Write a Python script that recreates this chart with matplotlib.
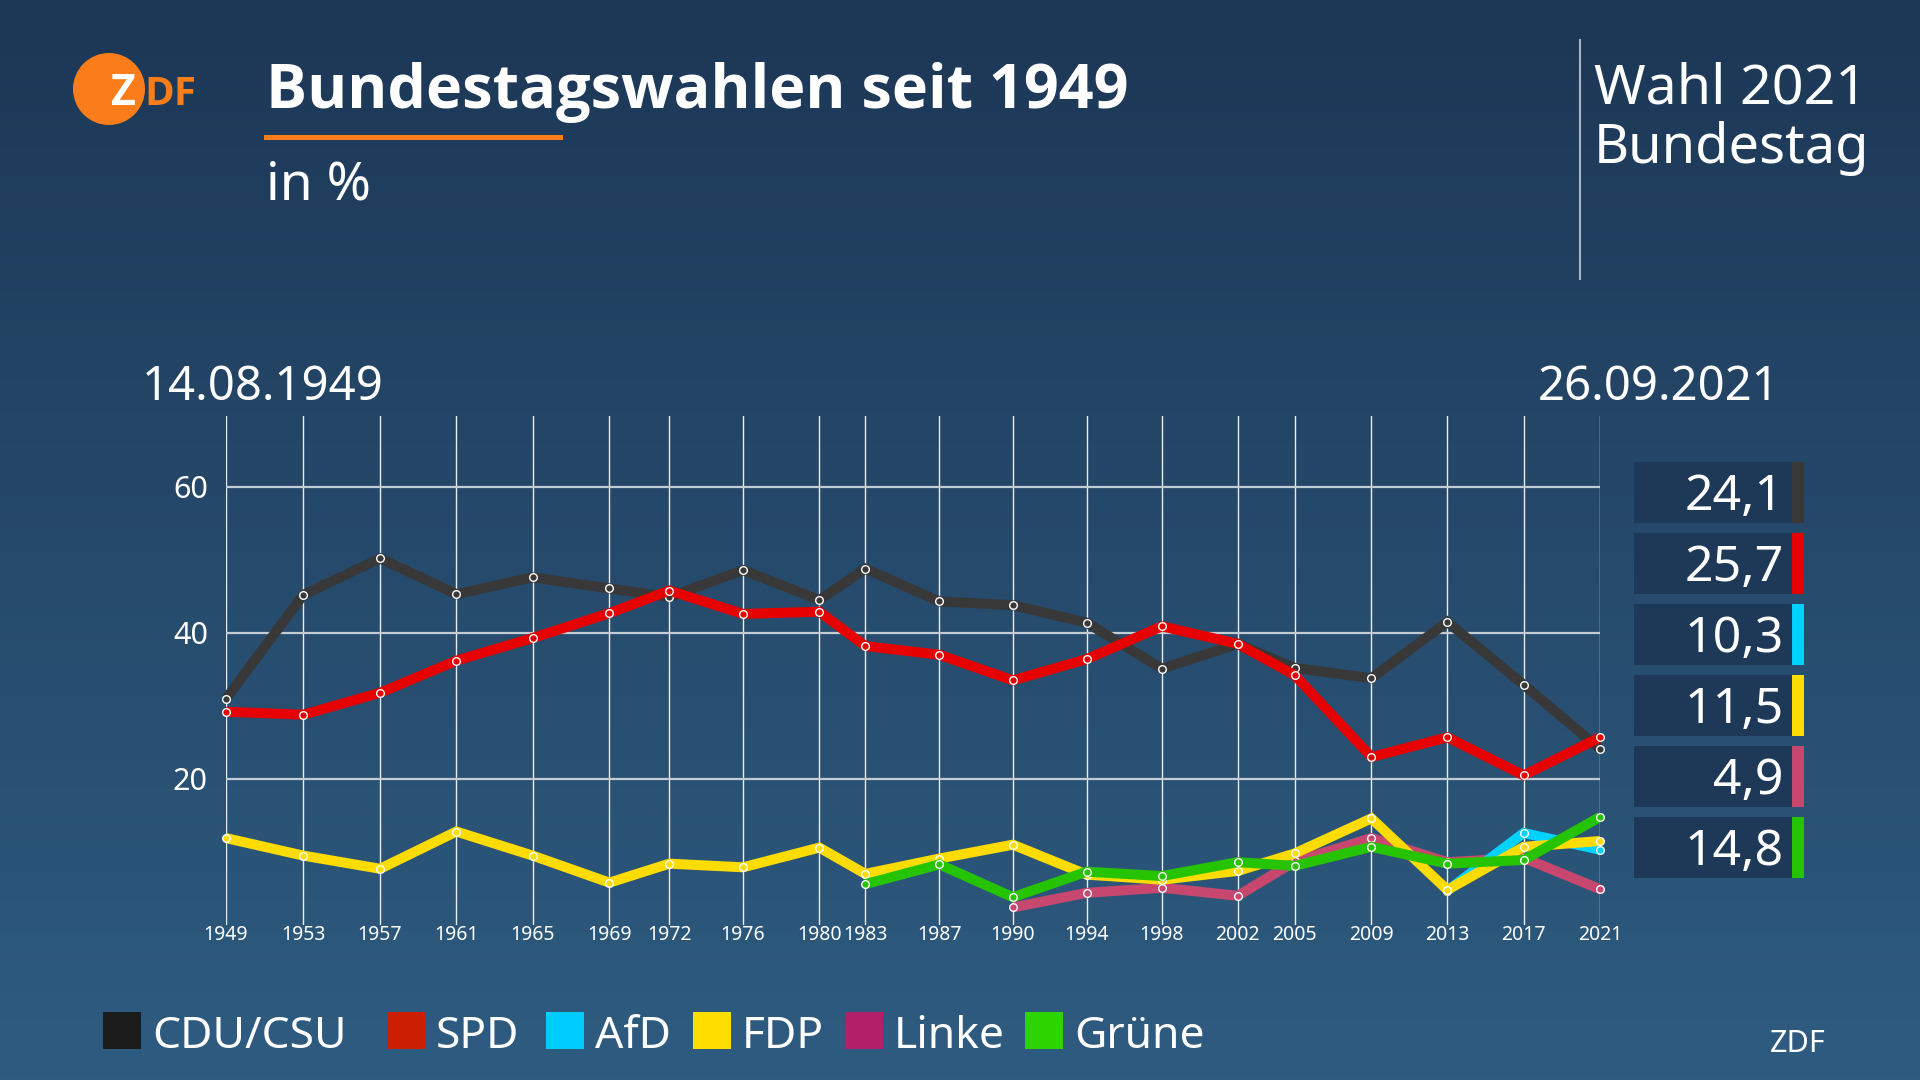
import numpy as np
import matplotlib
matplotlib.use("Agg")
import matplotlib.pyplot as plt
import matplotlib.dates as mdates
from matplotlib.patches import Rectangle, Ellipse
from matplotlib.lines import Line2D
import datetime as dt

plt.rcParams['font.family'] = ['Noto Sans', 'DejaVu Sans']

# ---------------- data ----------------
election_dates = ["1949-08-14", "1953-09-06", "1957-09-15", "1961-09-17", "1965-09-19",
                  "1969-09-28", "1972-11-19", "1976-10-03", "1980-10-05", "1983-03-06",
                  "1987-01-25", "1990-12-02", "1994-10-16", "1998-09-27", "2002-09-22",
                  "2005-09-18", "2009-09-27", "2013-09-22", "2017-09-24", "2021-09-26"]
year_labels = ["1949", "1953", "1957", "1961", "1965", "1969", "1972", "1976", "1980", "1983",
               "1987", "1990", "1994", "1998", "2002", "2005", "2009", "2013", "2017", "2021"]
first_date_label = "14.08.1949"
last_date_label = "26.09.2021"

cdu = [31.0, 45.2, 50.2, 45.3, 47.6, 46.1, 44.9, 48.6, 44.5, 48.8,
       44.3, 43.8, 41.4, 35.1, 38.5, 35.2, 33.8, 41.5, 32.9, 24.1]
spd = [29.2, 28.8, 31.8, 36.2, 39.3, 42.7, 45.8, 42.6, 42.9, 38.2,
       37.0, 33.5, 36.4, 40.9, 38.5, 34.2, 23.0, 25.7, 20.5, 25.7]
afd = [None] * 17 + [4.7, 12.6, 10.3]
fdp = [11.9, 9.5, 7.7, 12.8, 9.5, 5.8, 8.4, 7.9, 10.6, 7.0,
       9.1, 11.0, 6.9, 6.2, 7.4, 9.8, 14.6, 4.8, 10.7, 11.5]
linke = [None] * 11 + [2.4, 4.4, 5.1, 4.0, 8.7, 11.9, 8.6, 9.2, 4.9]
gruene = [None] * 9 + [5.6, 8.3, 3.8, 7.3, 6.7, 8.6, 8.1, 10.7, 8.4, 8.9, 14.8]

parties = ["CDU/CSU", "SPD", "AfD", "FDP", "Linke", "Grüne"]
yticks = [20, 40, 60]

# ---------------- styles ----------------
line_colors = {"CDU/CSU": "#383838", "SPD": "#e60000", "AfD": "#00d2ff",
               "FDP": "#ffdc00", "Linke": "#c8476f", "Grüne": "#26c400"}
legend_colors = {"CDU/CSU": "#1b1b1b", "SPD": "#cc1e00", "AfD": "#00ccff",
                 "FDP": "#ffdf00", "Linke": "#b3206a", "Grüne": "#2dd400"}
series = {"CDU/CSU": cdu, "SPD": spd, "AfD": afd, "FDP": fdp, "Linke": linke, "Grüne": gruene}
draw_order = ["Linke", "AfD", "FDP", "Grüne", "CDU/CSU", "SPD"]
legend_x = [103, 387, 546, 693, 845, 1025]

W, H = 1920, 1080
fig = plt.figure(figsize=(19.2, 10.8), dpi=100)


def fx(x):
    return x / W


def fy(y):
    return 1 - y / H


def rect(x0, y0, x1, y1, color, z=1):
    fig.add_artist(Rectangle((fx(x0), fy(y1)), (x1 - x0) / W, (y1 - y0) / H,
                             transform=fig.transFigure, facecolor=color, lw=0, zorder=z))


# background gradient
bg = fig.add_axes([0, 0, 1, 1], zorder=-10)
top = np.array([29, 55, 86]) / 255
bot = np.array([46, 92, 128]) / 255
t = np.linspace(0, 1, 256)[:, None]
grad = (top[None, :] * (1 - t) + bot[None, :] * t)[:, None, :]
bg.imshow(grad, aspect='auto', extent=[0, 1, 0, 1])
bg.set_axis_off()

# ---------------- main axes ----------------
dates = [mdates.date2num(dt.datetime.strptime(d, "%Y-%m-%d")) for d in election_dates]
ax = fig.add_axes([fx(226), fy(925), (1600 - 226) / W, (925 - 416) / H])
ax.set_facecolor('none')
ax.set_xlim(dates[0], dates[-1])
ax.set_ylim(0, 69.7)
for s in ax.spines.values():
    s.set_visible(False)

for d in dates:
    ax.axvline(d, color='white', lw=1.0, alpha=0.9, zorder=1)
ax.hlines(yticks, dates[0], dates[-1], color='#c3cbd4', lw=1.6, zorder=1)

for i, p in enumerate(draw_order):
    vals = np.array([np.nan if v is None else v for v in series[p]], dtype=float)
    ax.plot(dates, vals, color=line_colors[p], lw=7.2, solid_joinstyle='miter',
            solid_capstyle='butt', zorder=3 + i, clip_on=False,
            marker='o', markersize=5.5, markerfacecolor=line_colors[p],
            markeredgecolor='white', markeredgewidth=1.0)

ax.set_xticks(dates)
ax.set_xticklabels(year_labels)
ax.tick_params(axis='x', length=0, pad=0, labelsize=14, labelcolor='white')
ax.set_yticks(yticks)
ax.set_yticklabels([str(v) for v in yticks])
ax.tick_params(axis='y', length=0, pad=13, labelsize=22, labelcolor='white')

# ---------------- header ----------------
orange = "#fa7d19"
bold_family = ['Open Sans', 'DejaVu Sans']
fig.add_artist(Ellipse((fx(109), fy(89)), 72 / W, 72 / H, transform=fig.transFigure,
                       facecolor=orange, lw=0))
fig.text(fx(111), fy(105), "Z", fontsize=31, fontweight='bold', family=bold_family,
         color='white', va='baseline')
fig.text(fx(144), fy(105), "DF", fontsize=29, fontweight='bold', family=bold_family,
         color=orange, va='baseline')

fig.text(fx(266), fy(108), "Bundestagswahlen seit 1949", fontsize=44, fontweight='bold',
         family=bold_family, color='white', va='baseline', ha='left')
rect(264, 135, 563, 140, orange)
fig.text(fx(266), fy(200), "in %", fontsize=38.5, color='white', va='baseline', ha='left')

fig.add_artist(Line2D([fx(1580), fx(1580)], [fy(40), fy(279)], transform=fig.transFigure,
                      color='#aab5c2', lw=1.5))
fig.text(fx(1594), fy(103), "Wahl 2021", fontsize=40, color='white', va='baseline')
fig.text(fx(1594), fy(163), "Bundestag", fontsize=39, color='white', va='baseline')

fig.text(fx(263), fy(400), first_date_label, fontsize=34, color='white', va='baseline', ha='center')
fig.text(fx(1659), fy(400), last_date_label, fontsize=34, color='white', va='baseline', ha='center')

# ---------------- value boxes ----------------
box_color = "#1e3858"
for i, p in enumerate(parties):
    last = [v for v in series[p] if v is not None][-1]
    label = f"{last:.1f}".replace('.', ',')
    top_y = 462 + i * 71
    rect(1634, top_y, 1792, top_y + 61, box_color)
    rect(1792, top_y, 1804, top_y + 61, line_colors[p])
    fig.text(fx(1784), fy(top_y + 48), label, fontsize=36, color='white', va='baseline', ha='right')

# ---------------- legend ----------------
for p, x in zip(parties, legend_x):
    rect(x, 1012, x + 38, 1049, legend_colors[p])
    fig.text(fx(x + 49), fy(1048), p, fontsize=32, color='white', va='baseline', ha='left')

fig.text(fx(1770), fy(1052), "ZDF", fontsize=22, color='white', va='baseline', ha='left')

fig.savefig("out.png", dpi=100)
